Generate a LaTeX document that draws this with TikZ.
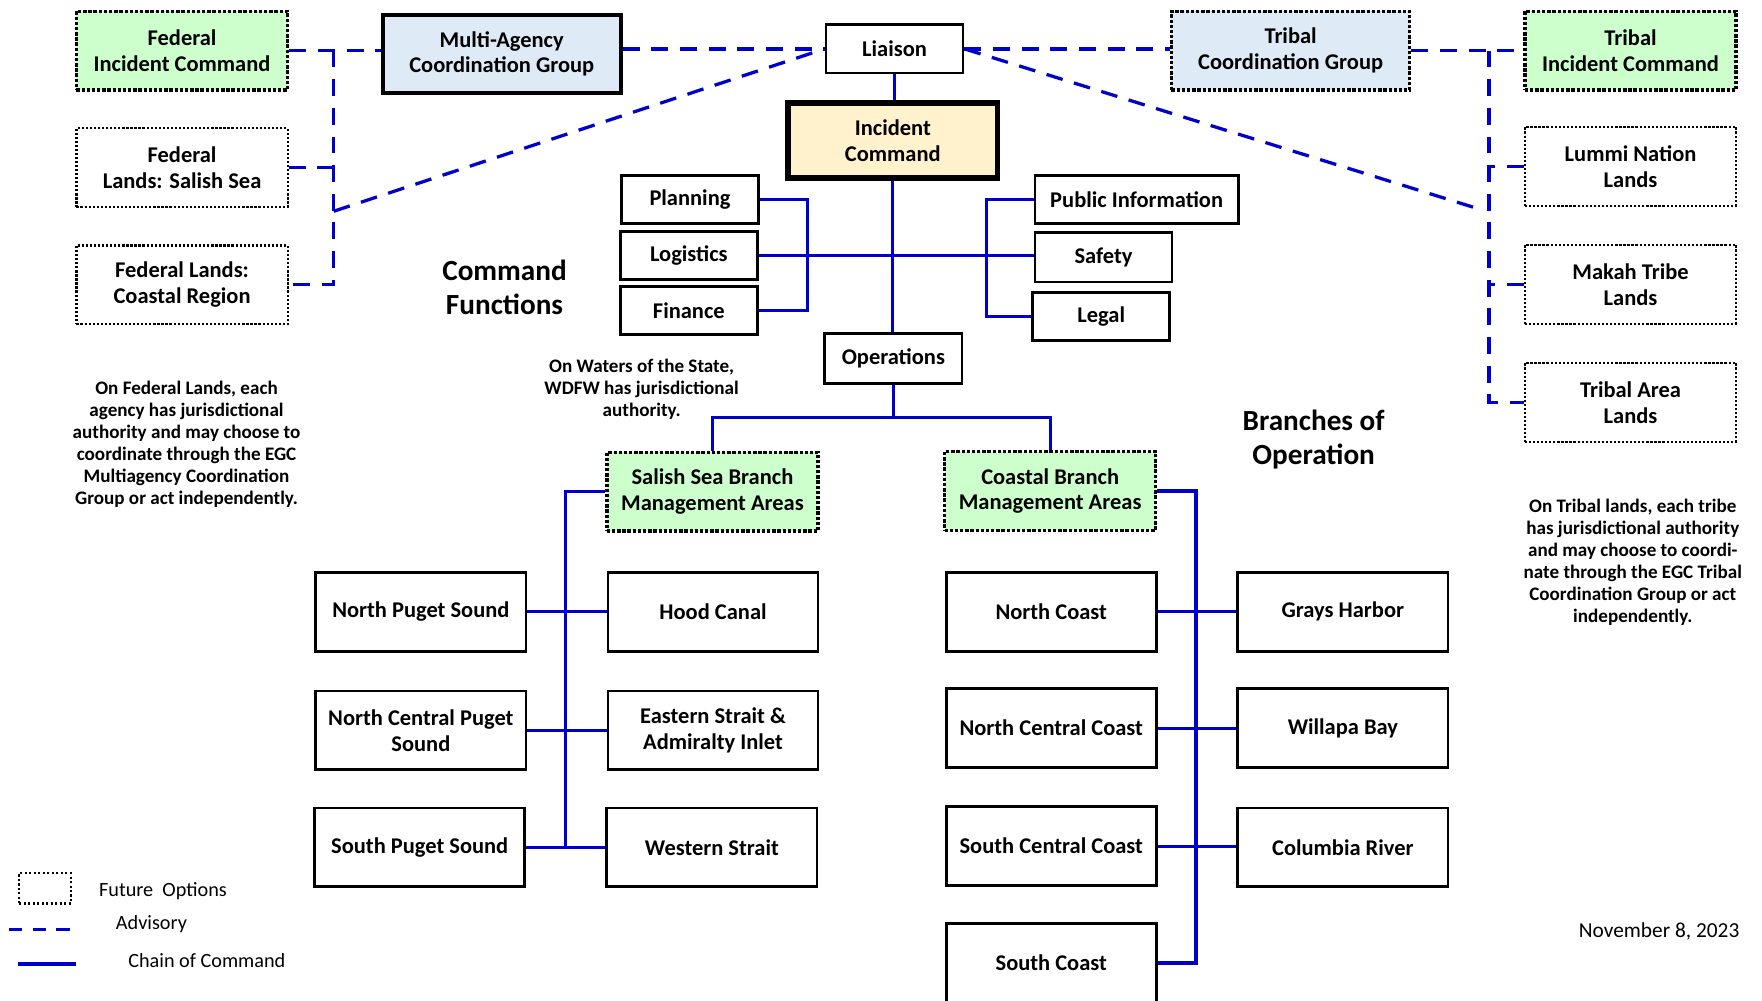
\documentclass[tikz,border=0pt]{standalone}
\usepackage{fontspec}
\setmainfont{Carlito}
\usetikzlibrary{calc}
\definecolor{cblue}{HTML}{0000CC}
\definecolor{gfill}{HTML}{CCFFCC}
\definecolor{bfill}{HTML}{DEEBF7}
\definecolor{yfill}{HTML}{FFF2CC}
\tikzset{
  base/.style={rectangle, align=center, inner sep=2pt, font=\bfseries\fontsize{20}{23}\selectfont},
  solidbox/.style={base, draw=black, line width=2.5pt, fill=white},
  smallbox/.style={solidbox, minimum width=122pt, minimum height=43pt},
  bigbox/.style={solidbox, minimum width=187pt, minimum height=70pt},
  futurebox/.style={base, draw=black, line width=3pt, dash pattern=on 3pt off 1.6pt, minimum width=188pt, minimum height=70pt},
  landbox/.style={base, draw=black, line width=2pt, dash pattern=on 2pt off 1.6pt, fill=white, minimum width=188pt, minimum height=70pt},
  chain/.style={draw=cblue, line width=2.8pt},
  adv/.style={draw=cblue, line width=2.9pt, dash pattern=on 15pt off 10.5pt},
  note/.style={align=center, font=\bfseries\fontsize{17}{19.7}\selectfont, inner sep=0pt},
  legendtext/.style={anchor=west, font=\fontsize{18}{21}\selectfont, inner sep=0pt},
  heading/.style={align=center, font=\bfseries\fontsize{26}{30}\selectfont, inner sep=0pt},
}
\begin{document}
\begin{tikzpicture}[x=1pt,y=-1pt]
\clip (0,0) rectangle (1568,890);
\fill[white] (0,0) rectangle (1568,890);

% ---- top row
\node[futurebox, fill=gfill] (fic) at (162,45) {Federal\\Incident Command};
\node[landbox] (fss) at (162,149) {Federal\\Lands: Salish Sea};
\node[landbox] (fcr) at (162,253.5) {Federal Lands:\\Coastal Region};
\node[solidbox, line width=3.5pt, fill=bfill, minimum width=212pt, minimum height=69pt] (macg) at (446.5,48) {Multi-Agency\\Coordination Group};
\node[smallbox] (liaison) at (796,43.5) {Liaison};
\node[solidbox, line width=5pt, fill=yfill, minimum width=186pt, minimum height=67pt] (ic) at (794.5,125) {Incident\\Command};
\node[futurebox, fill=bfill, minimum width=212pt] (tcg) at (1148.5,45) {Tribal\\Coordination Group};
\node[futurebox, fill=gfill] (tic) at (1451,45) {Tribal\\Incident Command};
\node[landbox] (lummi) at (1451,148) {Lummi Nation\\Lands};
\node[landbox] (makah) at (1451,253) {Makah Tribe\\Lands};
\node[landbox] (tarea) at (1451,358) {Tribal Area\\Lands};

% ---- command functions
\node[smallbox] (planning) at (614,177.5) {Planning};
\node[smallbox] (logistics) at (613,227.5) {Logistics};
\node[smallbox] (finance) at (613,276.5) {Finance};
\node[smallbox, minimum width=181pt] (pubinfo) at (1011.5,177.5) {Public Information};
\node[smallbox, minimum height=44pt] (safety) at (982,229) {Safety};
\node[smallbox] (legal) at (980,281.5) {Legal};
\node[smallbox, minimum height=44pt] (operations) at (795,319) {Operations};

% ---- branches
\node[futurebox, fill=gfill] (salish) at (634,437.5) {Salish Sea Branch\\Management Areas};
\node[futurebox, fill=gfill] (coastal) at (934.5,437) {Coastal Branch\\Management Areas};

\node[bigbox] (nps) at (374.5,544.5) {North Puget Sound};
\node[bigbox] (hood) at (634.5,544.5) {Hood Canal};
\node[bigbox] (ncps) at (374.5,650) {North Central Puget\\Sound};
\node[bigbox] (eastern) at (634.5,650) {Eastern Strait \&\\Admiralty Inlet};
\node[bigbox] (sps) at (373.5,754) {South Puget Sound};
\node[bigbox] (western) at (633.5,754) {Western Strait};

\node[bigbox] (ncoast) at (935.5,544.5) {North Coast};
\node[bigbox] (grays) at (1195,544.5) {Grays Harbor};
\node[bigbox] (ncc) at (935.5,648) {North Central Coast};
\node[bigbox] (willapa) at (1195,648) {Willapa Bay};
\node[bigbox] (scc) at (935.5,753) {South Central Coast};
\node[bigbox] (columbia) at (1195,754) {Columbia River};
\node[bigbox] (scoast) at (935.5,857) {South Coast};

% ---- headings and notes
\node[heading] (cf) at (449,256) {Command\\Functions};
\node[heading] (bo) at (1169,391) {Branches of\\Operation};
\node[note] (fnote) at (166,395.5) {On Federal Lands, each\\agency has jurisdictional\\authority and may choose to\\coordinate through the EGC\\Multiagency Coordination\\Group or act independently.};
\node[note] (wnote) at (571,346.5) {On Waters of the State,\\WDFW has jurisdictional\\authority.};
\node[note] (tnote) at (1453,500.5) {On Tribal lands, each tribe\\has jurisdictional authority\\and may choose to coordi-\\nate through the EGC Tribal\\Coordination Group or act\\independently.};
\node[anchor=east, inner sep=0pt, font=\fontsize{19}{22}\selectfont] (date) at (1548,829) {November 8, 2023};

% ---- chain of command
\draw[chain] (liaison.south) -- (liaison.south |- ic.north);
\draw[chain] (ic.south) -- (ic.south |- operations.north);
\draw[chain] (logistics.east) -- (logistics.east -| safety.west);
\draw[chain] (planning.east) -- ++(42,0) |- (finance.east);
\draw[chain] (pubinfo.west) -- ++(-42,0) |- (legal.west);
\draw[chain] (operations.south) -- ++(0,29) coordinate (opj);
\draw[chain] (salish.north) |- (opj) -| (coastal.north);
\coordinate (sbus) at ($(sps.east)!0.5!(western.west)$);
\draw[chain] (salish.west) -| (sbus);
\draw[chain] (nps.east) -- (hood.west);
\draw[chain] (ncps.east) -- (eastern.west);
\draw[chain] (sps.east) -- (western.west);
\coordinate (cbus) at ($(scoast.east)+(34,0)$);
\draw[chain] (coastal.east) -| (cbus) -- (scoast.east);
\draw[chain] (ncoast.east) -- (grays.west);
\draw[chain] (ncc.east) -- (willapa.west);
\draw[chain] (scc.east) -- (scc.east -| columbia.west);

% ---- advisory
\coordinate (fx) at (297,0);
\coordinate (fd) at (297,188);
\coordinate (tx) at (1325,0);
\coordinate (td) at (1313,185);
\draw[adv] (fic.east) -- (fic.east -| macg.west);
\draw[adv] (fic.east -| fx) |- (fcr.east);
\draw[adv] (fss.east) -- (fss.east -| fx);
\draw[adv] (fd) -- (liaison.west);
\draw[adv] (macg.east |- liaison.west) -- (liaison.west);
\draw[adv] (liaison.east) -- (liaison.east -| tcg.west);
\draw[adv] (liaison.east) -- (td);
\draw[adv] (tcg.east) -- (tic.west);
\draw[adv] (tcg.east -| tx) |- (tarea.west);
\draw[adv] (lummi.west) -- (lummi.west -| tx);
\draw[adv] (makah.west) -- (makah.west -| tx);

% ---- legend
\node[draw=black, line width=2pt, dash pattern=on 2pt off 2pt, minimum width=46pt, minimum height=27pt, inner sep=0pt] (lgbox) at (40,790.5) {};
\node[legendtext] (lgfut) at (88,793) {Future\ \ Options};
\coordinate (ad1) at (8,827);
\coordinate (ad2) at (68,827);
\draw[adv, dash pattern=on 12pt off 9pt] (ad1) -- (ad2);
\node[legendtext] (lgadv) at (103,822) {Advisory};
\coordinate (ch1) at (16,858);
\coordinate (ch2) at (68,858);
\draw[chain, line width=4pt] (ch1) -- (ch2);
\node[legendtext] (lgch) at (114,855) {Chain of Command};
\end{tikzpicture}
\end{document}
